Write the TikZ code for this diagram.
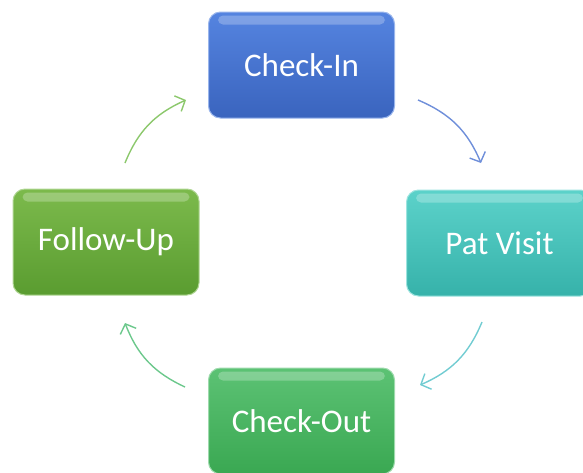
\documentclass[tikz,border=0pt]{standalone}
\usepackage{fontspec}
\setmainfont{Carlito}
\usetikzlibrary{arrows.meta}
\definecolor{ciT}{HTML}{5584E0}\definecolor{ciB}{HTML}{3A64BE}
\definecolor{pvT}{HTML}{5CD2CA}\definecolor{pvB}{HTML}{36B2AA}
\definecolor{fuT}{HTML}{7CBA4C}\definecolor{fuB}{HTML}{5A9C30}
\definecolor{coT}{HTML}{5CC274}\definecolor{coB}{HTML}{3AA852}
\definecolor{arA}{HTML}{6F8FDA}\definecolor{arB}{HTML}{72CCD2}
\definecolor{arC}{HTML}{6CC88C}\definecolor{arD}{HTML}{8CC86C}
\tikzset{
  stage/.style={rounded corners=12pt, minimum width=186pt, minimum height=106pt,
    text=white, font=\fontsize{33}{38}\selectfont, inner sep=0pt},
  cyc/.style={line width=1.4pt, -{Straight Barb[length=8pt,width=17pt,line width=1.4pt]}, bend left=22},
  gloss/.style={fill=white, opacity=0.25, rounded corners=5pt}
}
\begin{document}
\begin{tikzpicture}[x=1pt,y=-1pt]
\useasboundingbox (0,0) rectangle (583,472);
\clip (0,0) rectangle (583,472);
\node[stage, top color=ciT, bottom color=ciB, draw=ciT!60!white, line width=1pt] (ci) at (301.5,65) {Check-In};
\node[stage, top color=pvT, bottom color=pvB, draw=pvT!60!white, line width=1pt] (pv) at (499.5,243) {Pat Visit};
\node[stage, top color=coT, bottom color=coB, draw=coT!60!white, line width=1pt] (co) at (301.5,421) {Check-Out};
\node[stage, top color=fuT, bottom color=fuB, draw=fuT!60!white, line width=1pt] (fu) at (106,242) {Follow-Up};
\foreach \n in {ci,pv,co,fu}{
  \fill[gloss] ([xshift=10pt,yshift=-4pt]\n.north west) rectangle ([xshift=-10pt,yshift=-13pt]\n.north east);
  \fill[white,opacity=0.5] ([xshift=3pt,yshift=3pt]\n.south west) -- ++(0pt,-12pt) arc[start angle=180,end angle=270,radius=9pt] -- cycle;
}
\coordinate (a1s) at (418,100); \coordinate (a1e) at (481,163);
\coordinate (a2s) at (482,322); \coordinate (a2e) at (420,385);
\coordinate (a3s) at (185,387); \coordinate (a3e) at (125,323);
\coordinate (a4s) at (125,163); \coordinate (a4e) at (186,100);
\draw[cyc, arA] (a1s) to (a1e);
\draw[cyc, arB] (a2s) to (a2e);
\draw[cyc, arC] (a3s) to (a3e);
\draw[cyc, arD] (a4s) to (a4e);
\end{tikzpicture}
\end{document}
